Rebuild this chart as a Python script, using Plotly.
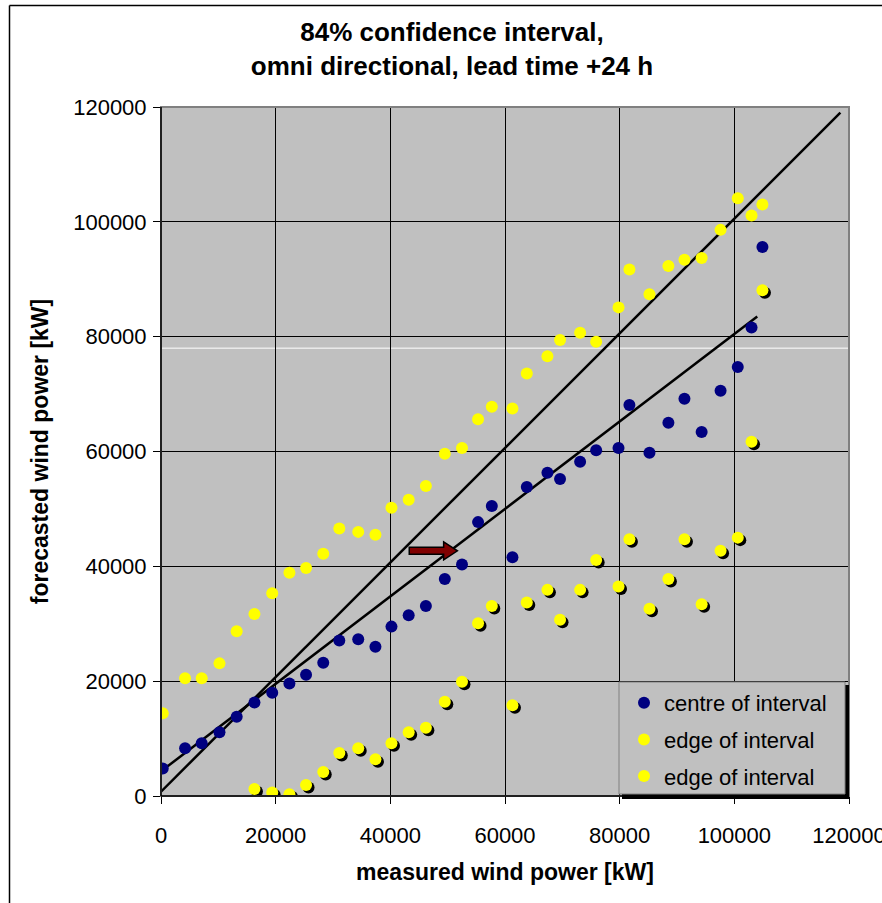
import plotly.graph_objects as go

# measured wind power [kW] (shared x for all three series)
measured = [300, 4200, 7100, 10200, 13200, 16300, 19400, 22400, 25300, 28300,
            31100, 34400, 37400, 40200, 43200, 46200, 49500, 52500, 55300, 57700,
            61300, 63800, 67400, 69600, 73100, 75900, 79800, 81700, 85200, 88500,
            91300, 94300, 97600, 100600, 103000, 104900]

centre = [4800, 8300, 9200, 11100, 13800, 16300, 18000, 19600, 21100, 23200,
          27100, 27300, 26000, 29500, 31500, 33100, 37800, 40300, 47700, 50500,
          41600, 53800, 56300, 55200, 58200, 60200, 60600, 68100, 59800, 65000,
          69200, 63400, 70600, 74700, 81600, 95600]

upper = [14400, 20500, 20500, 23100, 28700, 31700, 35300, 38900, 39700, 42200,
         46600, 46000, 45500, 50200, 51600, 54000, 59600, 60600, 65600, 67800,
         67500, 73600, 76600, 79400, 80700, 79100, 85100, 91700, 87400, 92300,
         93400, 93700, 98600, 104100, 101100, 103000]

lower = [None, None, None, None, None, 1200, 600, 300, 1900, 4200,
         7500, 8300, 6400, 9200, 11100, 11900, 16400, 19900, 30100, 33100,
         15800, 33700, 35900, 30700, 35900, 41100, 36500, 44700, 32600, 37800,
         44700, 33400, 42700, 45000, 61700, 88100]

# reference lines
diag_x = [0, 118500]
diag_y = [750, 119000]
trend_x = [0, 104000]
trend_y = [4300, 83500]

# arrow (data units)
arrow_x0, arrow_head, arrow_x1, arrow_y = 43300, 49300, 51700, 42700

ticks = [0, 20000, 40000, 60000, 80000, 100000, 120000]

FONT = "Liberation Sans, Arial, sans-serif"
L, R, T, B = 161, 33, 107, 107
W, H = 882, 903
pw, ph = W - L - R, H - T - B


def px_x(p):
    return (p - L) / pw


def px_y(p):
    return (H - B - p) / ph


fig = go.Figure()

fig.add_trace(go.Scatter(x=diag_x, y=diag_y, mode="lines",
                         line=dict(color="black", width=2.5), showlegend=False, hoverinfo="skip"))
fig.add_trace(go.Scatter(x=trend_x, y=trend_y, mode="lines",
                         line=dict(color="black", width=2.5), showlegend=False, hoverinfo="skip"))

fig.add_trace(go.Scatter(x=measured, y=centre, mode="markers", name="centre of interval",
                         marker=dict(color="#000080", size=12), legendgroup="a"))
fig.add_trace(go.Scatter(x=measured, y=upper, mode="markers", name="edge of interval",
                         marker=dict(color="#FFFF00", size=12), legendgroup="b"))

# shadow of the lower edge markers (offset ~2.5 px)
dx = 2.5 * 120000 / pw
dy = 2.5 * 120000 / ph
fig.add_trace(go.Scatter(x=[m + dx for m in measured],
                         y=[v - dy if v is not None else None for v in lower],
                         mode="markers", marker=dict(color="black", size=12),
                         showlegend=False, hoverinfo="skip"))
fig.add_trace(go.Scatter(x=measured, y=lower, mode="markers", name="edge of interval",
                         marker=dict(color="#FFFF00", size=12), legendgroup="c"))

bh = 3.5 * 120000 / ph
hh = 9 * 120000 / ph
arrow_path = (f"M {arrow_x0},{arrow_y - bh} L {arrow_head},{arrow_y - bh} L {arrow_head},{arrow_y - hh} "
              f"L {arrow_x1},{arrow_y} L {arrow_head},{arrow_y + hh} L {arrow_head},{arrow_y + bh} "
              f"L {arrow_x0},{arrow_y + bh} Z")

shapes = [
    # odd white line across plot
    dict(type="line", xref="x", yref="y", x0=0, x1=120000, y0=78000, y1=78000,
         line=dict(color="white", width=1), layer="below"),
    # plot area frame
    dict(type="rect", xref="paper", yref="paper", x0=0, x1=1, y0=0, y1=1,
         line=dict(color="#808080", width=2)),
    dict(type="line", xref="paper", yref="paper", x0=0, x1=0, y0=0, y1=1,
         line=dict(color="black", width=1.5)),
    dict(type="line", xref="paper", yref="paper", x0=0, x1=1, y0=0, y1=0,
         line=dict(color="black", width=1.5)),
    # arrow
    dict(type="path", xref="x", yref="y", path=arrow_path,
         fillcolor="#800000", line=dict(color="black", width=1.5), layer="above"),
    # outer chart border (left and top)
    dict(type="line", xref="paper", yref="paper", x0=px_x(9.5), x1=px_x(9.5), y0=px_y(5.5), y1=px_y(905),
         line=dict(color="black", width=1.5)),
    dict(type="line", xref="paper", yref="paper", x0=px_x(9.5), x1=px_x(885), y0=px_y(5.5), y1=px_y(5.5),
         line=dict(color="black", width=1.5)),
    # legend box with shadow
    dict(type="rect", xref="paper", yref="paper", x0=px_x(622), x1=px_x(849), y0=px_y(799), y1=px_y(685),
         fillcolor="black", line=dict(width=0)),
    dict(type="rect", xref="paper", yref="paper", x0=px_x(619), x1=px_x(845), y0=px_y(794), y1=px_y(682),
         fillcolor="#C0C0C0", line=dict(color="#808080", width=1)),
]

fig.update_layout(
    width=W, height=H,
    margin=dict(l=L, r=R, t=T, b=B),
    paper_bgcolor="white",
    plot_bgcolor="#C0C0C0",
    font=dict(family=FONT, size=22, color="black"),
    title=dict(text="<b>84% confidence interval,<br>omni directional, lead time +24 h</b>",
               x=452 / W, xanchor="center",
               y=1 - 41 / H, yanchor="middle",
               font=dict(family=FONT, size=26, color="black")),
    xaxis=dict(range=[0, 120000], tickvals=ticks, tickformat="d", automargin=False,
               showgrid=True, gridcolor="black", gridwidth=1, zeroline=False,
               ticks="outside", ticklen=7, tickcolor="black", ticklabelstandoff=13,
               ticklabeloverflow="allow",
               title=dict(text="<b>measured wind power [kW]</b>", standoff=16,
                          font=dict(family=FONT, size=23))),
    yaxis=dict(range=[0, 120000], tickvals=ticks, tickformat="d", automargin=False,
               showgrid=True, gridcolor="black", gridwidth=1, zeroline=False,
               ticks="outside", ticklen=7, tickcolor="black", ticklabelstandoff=2,
               title=dict(text="<b>forecasted wind power [kW]</b>", standoff=18,
                          font=dict(family=FONT, size=23))),
    legend=dict(x=px_x(624), y=px_y(682), xanchor="left", yanchor="top",
                bgcolor="rgba(0,0,0,0)", borderwidth=0,
                font=dict(family=FONT, size=22), tracegroupgap=5,
                traceorder="grouped", itemsizing="constant"),
    shapes=shapes,
)

# page without margins; clip the overflowing right-most tick label
clip_js = """
document.documentElement.style.overflow = 'hidden';
document.body.style.margin = '0';
document.body.style.overflow = 'hidden';
var gd = document.getElementById('{plot_id}');
gd.style.overflow = 'hidden';
gd.parentElement.style.overflow = 'hidden';
gd.parentElement.style.width = '882px';
"""

fig.write_html("out.html", config={"displayModeBar": False}, post_script=clip_js)
